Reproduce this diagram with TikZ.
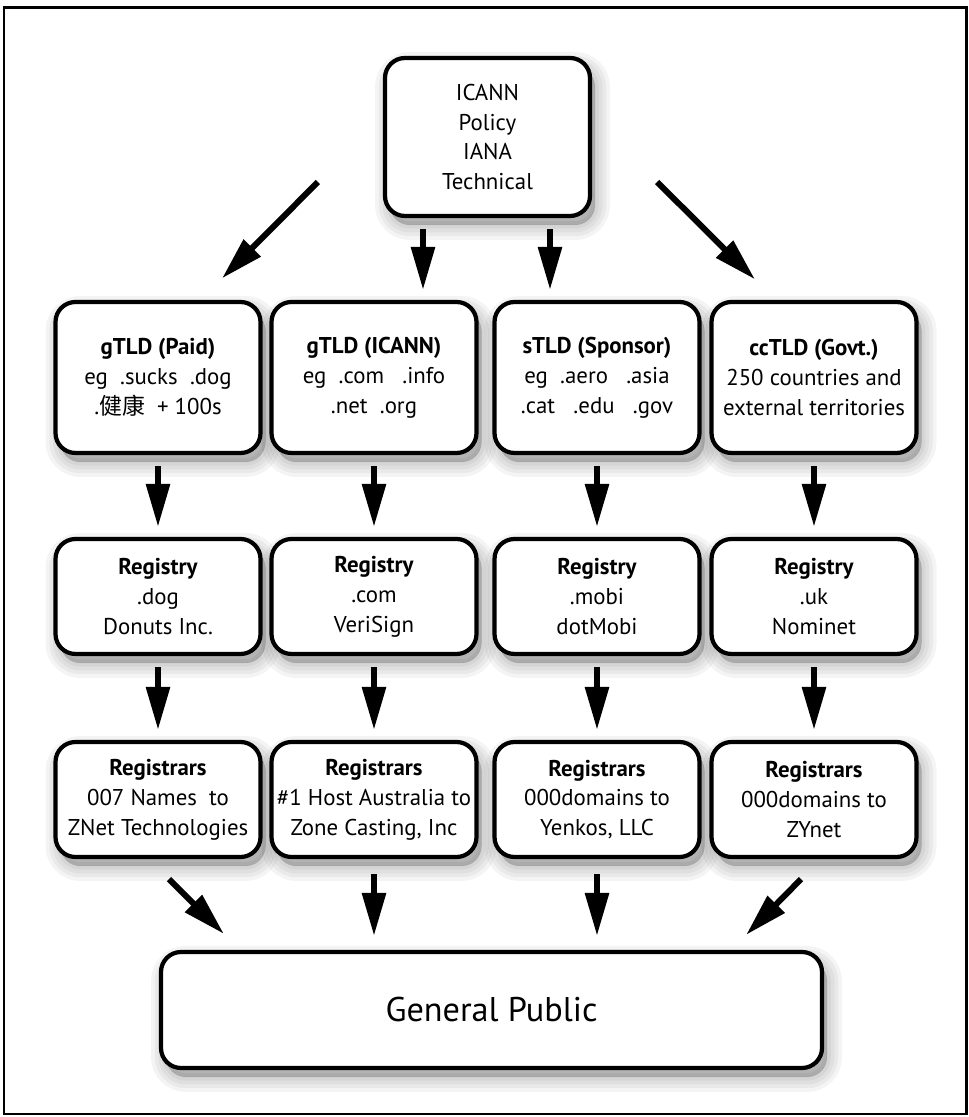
\documentclass[tikz,border=0pt]{standalone}
\usepackage{fontspec}
\setmainfont{PT Sans}
\newfontfamily\cjk{Noto Sans CJK SC}
\usetikzlibrary{arrows.meta,positioning,calc,shadows}

\begin{document}
\begin{tikzpicture}[
    soft/.style={general shadow={draw=black, fill=black, line width=#1,
        opacity=0.045, shadow xshift=0.1cm, shadow yshift=-0.18cm}},
    box/.style={draw, line width=2.4pt, rounded corners=0.4cm, fill=white,
        align=center, inner sep=0pt, minimum width=4.1cm,
        font=\fontsize{13}{17}\selectfont,
        soft=0.6cm, soft=0.45cm, soft=0.3cm, soft=0.15cm, soft=0.02cm},
    tldbox/.style={box, minimum height=3.02cm},
    rowbox/.style={box, minimum height=2.3cm},
    big/.style={-{Triangle[width=0.46cm,length=0.86cm]}, line width=0.12cm},
    gap/.style={big, shorten <=0.22cm, shorten >=0.2cm}
]
    \useasboundingbox (0,0) rectangle (19.38,22.34);
    % frame
    \draw[line width=1.7pt] (0.08,0.06) rectangle (19.32,22.18);

    % top
    \node[box, minimum height=3.16cm] (icann) at (9.75,19.6)
        {ICANN\\Policy\\IANA\\Technical};

    % top level domains
    \node[tldbox] (paid) at (3.16,14.79)
        {\textbf{gTLD (Paid)}\\eg\ \ .sucks\ \ .dog\\.{\cjk 健康}\ \ + 100s};
    \node[tldbox] (icanntld) at (7.48,14.79)
        {\textbf{gTLD (ICANN)}\\eg\ \ .com\ \ \ .info\\.net\ \ .org};
    \node[tldbox] (sponsor) at (11.94,14.79)
        {\textbf{sTLD (Sponsor)}\\eg\ \ .aero\ \ \ .asia\\.cat\ \ \ .edu\ \ \ .gov};
    \node[tldbox] (govt) at (16.28,14.79)
        {\textbf{ccTLD (Govt.)}\\250 countries and\\external territories};

    % registries
    \node[rowbox] (regdog) at (3.16,10.41) {\textbf{Registry}\\.dog\\Donuts Inc.};
    \node[rowbox] (regcom) at (7.48,10.41) {\textbf{Registry}\\.com\\VeriSign};
    \node[rowbox] (regmobi) at (11.94,10.41) {\textbf{Registry}\\.mobi\\dotMobi};
    \node[rowbox] (reguk) at (16.28,10.41) {\textbf{Registry}\\.uk\\Nominet};

    % registrars
    \node[rowbox] (rardog) at (3.16,6.35)
        {\textbf{Registrars}\\007 Names\ \ to\\ZNet Technologies};
    \node[rowbox] (rarcom) at (7.48,6.35)
        {\textbf{Registrars}\\\#1 Host Australia to\\Zone Casting, Inc};
    \node[rowbox] (rarmobi) at (11.94,6.35)
        {\textbf{Registrars}\\000domains to\\Yenkos, LLC};
    \node[rowbox] (raruk) at (16.28,6.35)
        {\textbf{Registrars}\\000domains to\\ZYnet};

    % public
    \node[box, minimum width=13.22cm, minimum height=2.32cm,
        font=\fontsize{19.5}{24}\selectfont] (public) at (9.83,2.14) {General Public};

    % arrows from ICANN
    \draw[big] ($(icann.west)+(-1.3,-0.9)$) -- ($(paid.north)+(1.28,0.43)$);
    \draw[big] ($(icann.east)+(1.3,-0.9)$) -- ($(govt.north)+(-1.18,0.41)$);
    \draw[gap] ([xshift=-1.29cm]icann.south) -- ([xshift=-1.29cm]icann.south |- icanntld.north);
    \draw[gap] ([xshift=1.25cm]icann.south) -- ([xshift=1.25cm]icann.south |- sponsor.north);

    % down the columns
    \foreach \a/\b/\c in {paid/regdog/rardog, icanntld/regcom/rarcom,
                          sponsor/regmobi/rarmobi, govt/reguk/raruk} {
        \draw[gap] (\a) -- (\b);
        \draw[gap] (\b) -- (\c);
    }

    % to the public
    \draw[big] ($(rardog.south)+(0.22,-0.4)$) -- ($(public.north west)+(1.3,0.32)$);
    \draw[gap, shorten <=0.3cm, shorten >=0.28cm] (rarcom) -- (rarcom |- public.north);
    \draw[gap, shorten <=0.3cm, shorten >=0.28cm] (rarmobi) -- (rarmobi |- public.north);
    \draw[big] ($(raruk.south)+(-0.26,-0.4)$) -- ($(public.north east)+(-1.56,0.3)$);
\end{tikzpicture}
\end{document}
